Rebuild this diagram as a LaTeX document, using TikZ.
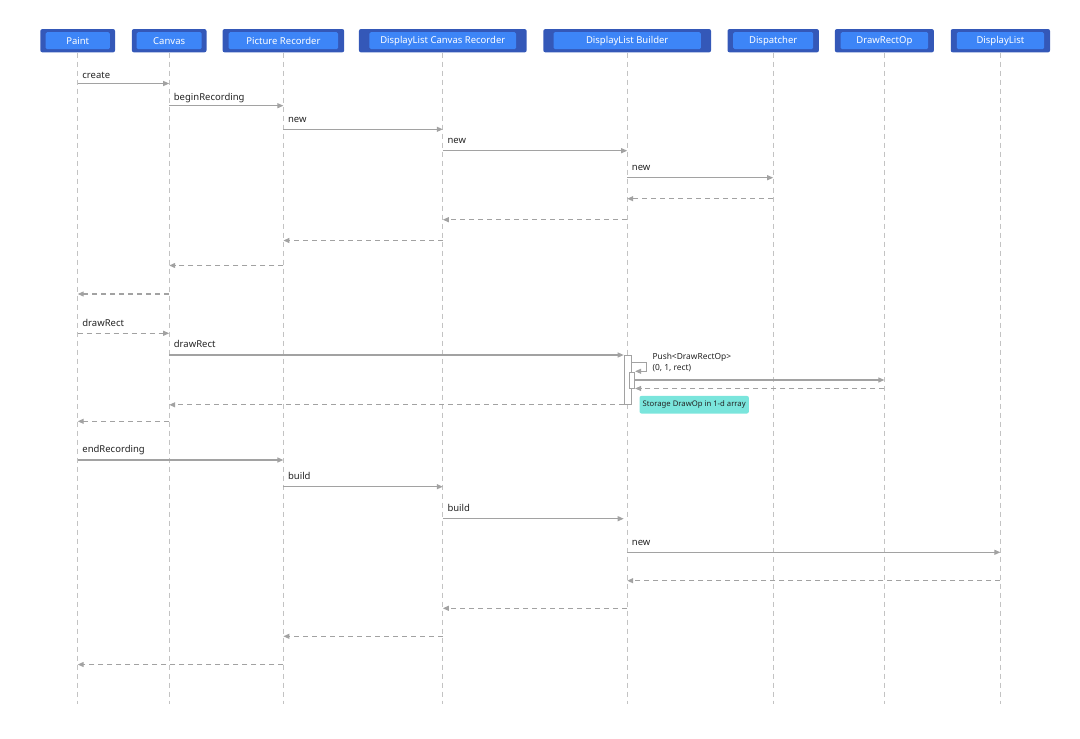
\documentclass[tikz,border=0pt]{standalone}
\usepackage{fontspec}
\setmainfont{Noto Sans}
\usetikzlibrary{arrows.meta}
\definecolor{hdrdark}{RGB}{52,88,184}
\definecolor{hdrlight}{RGB}{61,133,247}
\definecolor{msggray}{RGB}{162,162,162}
\definecolor{lifegray}{RGB}{195,195,195}
\definecolor{noteteal}{RGB}{122,229,220}
\definecolor{lbltext}{RGB}{35,35,35}
\begin{document}
\begin{tikzpicture}[x=1pt,y=-1pt,
  hdrout/.style={fill=hdrdark, rounded corners=2pt, minimum height=23.3pt, inner sep=0pt},
  hdrin/.style={fill=hdrlight, rounded corners=1.5pt, minimum height=17pt, inner sep=0pt, text=white, font=\fontsize{9.5}{11}\selectfont},
  lifeline/.style={draw=lifegray, line width=0.9pt, dash pattern=on 5pt off 4pt},
  msg/.style={draw=msggray, line width=1.1pt, -{Triangle[length=6pt,width=5pt]}},
  ret/.style={msg, dash pattern=on 5pt off 4pt},
  lbl/.style={anchor=base west, inner sep=0pt, xshift=4.5pt, yshift=7.3pt, font=\fontsize{9.5}{11}\selectfont, text=lbltext},
  actbar/.style={draw=msggray, fill=white, line width=0.8pt, inner sep=0pt},
  notebox/.style={fill=noteteal, rounded corners=2pt, inner sep=0pt, minimum width=109.4pt, minimum height=17.6pt, font=\fontsize{7.7}{9}\selectfont, text=lbltext},
  selflbl/.style={anchor=base west, inner sep=0pt, font=\fontsize{8.4}{10}\selectfont, text=lbltext}
]
\useasboundingbox (0,0) rectangle (1080,739);

% headers
\node[hdrout, minimum width=74.7pt] (paint) at (77.7,40.7) {};
\node[hdrin, minimum width=64.3pt] (paintlbl) at (paint) {Paint};
\node[hdrout, minimum width=74.6pt] (canvas) at (169.2,40.7) {};
\node[hdrin, minimum width=65pt] (canvaslbl) at (canvas) {Canvas};
\node[hdrout, minimum width=121.6pt] (pr) at (283.4,40.7) {};
\node[hdrin, minimum width=109.5pt] (prlbl) at (pr) {Picture Recorder};
\node[hdrout, minimum width=167.7pt] (dlcr) at (442.8,40.7) {};
\node[hdrin, minimum width=146.7pt] (dlcrlbl) at (dlcr) {DisplayList Canvas Recorder};
\node[hdrout, minimum width=167.7pt] (dlb) at (627.2,40.7) {};
\node[hdrin, minimum width=147.4pt] (dlblbl) at (dlb) {DisplayList Builder};
\node[hdrout, minimum width=91.4pt] (disp) at (773.2,40.7) {};
\node[hdrin, minimum width=80pt] (displbl) at (disp) {Dispatcher};
\node[hdrout, minimum width=99pt] (dro) at (884.4,40.7) {};
\node[hdrin, minimum width=87.6pt] (drolbl) at (dro) {DrawRectOp};
\node[hdrout, minimum width=99.3pt] (dl) at (1000.4,40.7) {};
\node[hdrin, minimum width=87.3pt] (dllbl) at (dl) {DisplayList};

% lifelines
\foreach \n in {paint,canvas,pr,dlcr,dlb,disp,dro,dl}
  \draw[lifeline] (\n.south) -- (\n.south |- 0,704);

% activation bars
\node[actbar, minimum width=7pt, minimum height=49pt, anchor=north west] (act1) at (623.7,355) {};
\node[actbar, minimum width=5.3pt, minimum height=16.6pt, anchor=north west] (act2) at (629,371.7) {};

% setup phase
\draw[msg] (paint |- 0,83.5) -- (canvas |- 0,83.5);
\node[lbl, yshift=-2pt] (l1) at (paint |- 0,83.5) {create};
\draw[msg] (canvas |- 0,105.7) -- (pr |- 0,105.7);
\node[lbl, yshift=-1.6pt] (l2) at (canvas |- 0,105.7) {beginRecording};
\draw[msg] (pr |- 0,129.3) -- (dlcr |- 0,129.3);
\node[lbl] (l3) at (pr |- 0,129.3) {new};
\draw[msg] (dlcr |- 0,150.7) -- (dlb |- 0,150.7);
\node[lbl] (l4) at (dlcr |- 0,150.7) {new};
\draw[msg] (dlb |- 0,177.7) -- (disp |- 0,177.7);
\node[lbl] (l5) at (dlb |- 0,177.7) {new};
\draw[ret] (disp |- 0,198.7) -- (dlb |- 0,198.7);
\draw[ret] (dlb |- 0,219.7) -- (dlcr |- 0,219.7);
\draw[ret] (dlcr |- 0,240.5) -- (pr |- 0,240.5);
\draw[ret] (pr |- 0,265.5) -- (canvas |- 0,265.5);
\draw[ret] (canvas |- 0,294) -- (paint |- 0,294);

% drawRect phase
\draw[ret] (paint |- 0,333.3) -- (canvas |- 0,333.3);
\node[lbl] (l6) at (paint |- 0,333.3) {drawRect};
\draw[msg] (canvas |- 0,355) -- (act1.north west);
\node[lbl] (l7) at (canvas |- 0,355) {drawRect};
\draw[msg] (act1.east |- 0,362.3) -- ++(15.3,0) |- (act2.east |- 0,371.3);
\node[selflbl] (p1) at (652.3,359.3) {Push<DrawRectOp>};
\node[selflbl] (p2) at (652.3,370.3) {(0, 1, rect)};
\draw[msg] (act2.east |- 0,380) -- (dro |- 0,380);
\draw[ret] (dro |- 0,388.5) -- (act2.east |- 0,388.5);
\draw[ret] (act1.south west) -- (canvas |- act1.south west);
\node[notebox, anchor=north west] (note) at (639.3,395.7) {Storage DrawOp in 1-d array};
\draw[ret] (canvas |- 0,421.3) -- (paint |- 0,421.3);

% endRecording phase
\draw[msg] (paint |- 0,460) -- (pr |- 0,460);
\node[lbl] (l8) at (paint |- 0,460) {endRecording};
\draw[msg] (pr |- 0,486.7) -- (dlcr |- 0,486.7);
\node[lbl] (l9) at (pr |- 0,486.7) {build};
\draw[msg, shorten >=3.5pt] (dlcr |- 0,518.7) -- (dlb |- 0,518.7);
\node[lbl] (l10) at (dlcr |- 0,518.7) {build};
\draw[msg] (dlb |- 0,552.3) -- (dl |- 0,552.3);
\node[lbl] (l11) at (dlb |- 0,552.3) {new};
\draw[ret] (dl |- 0,580.7) -- (dlb |- 0,580.7);
\draw[ret] (dlb |- 0,608.3) -- (dlcr |- 0,608.3);
\draw[ret] (dlcr |- 0,636.3) -- (pr |- 0,636.3);
\draw[ret] (pr |- 0,664.5) -- (paint |- 0,664.5);
\end{tikzpicture}
\end{document}
